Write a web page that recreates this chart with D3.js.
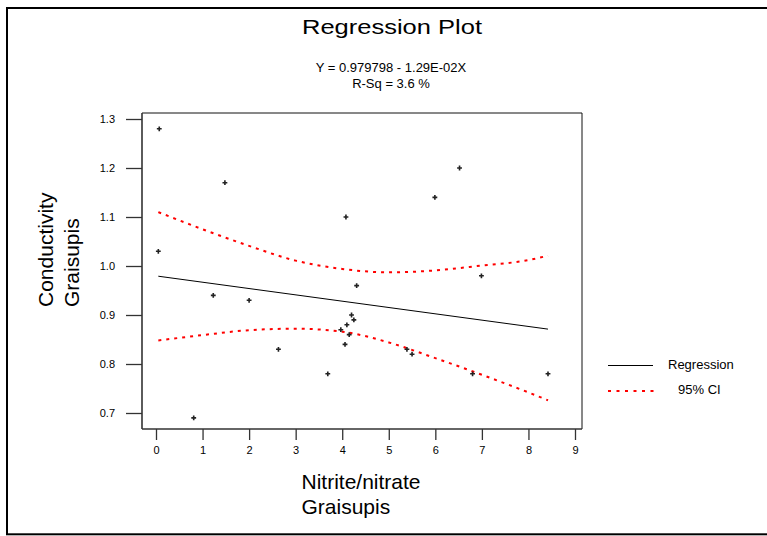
<!DOCTYPE html>
<html>
<head>
<meta charset="utf-8">
<script src="https://cdn.jsdelivr.net/npm/d3@7"></script>
<style>
  html, body { margin: 0; padding: 0; background: #fff; }
  svg { display: block; }
  text { font-family: Arial, "Liberation Sans", sans-serif; fill: #000; }
</style>
</head>
<body>
<svg id="chart" width="767" height="536"></svg>
<script>
// ---- data ----
const pointsX = [0.07, 0.05, 0.81, 1.23, 1.48, 2.00, 2.63, 3.69, 3.97, 4.06, 4.08, 4.10, 4.15, 4.20, 4.25, 4.31, 5.39, 5.50, 5.99, 6.52, 6.80, 6.99, 8.42];
const pointsY = [1.28, 1.03, 0.69, 0.94, 1.17, 0.93, 0.83, 0.78, 0.87, 0.84, 1.10, 0.88, 0.86, 0.90, 0.89, 0.96, 0.83, 0.82, 1.14, 1.20, 0.78, 0.98, 0.78];
const intercept = 0.979798;
const slope = -0.0129;
const ciX     = [0.05, 1,     2,     3,     4,     5,     6,     7,     8,     8.42];
const ciUpper = [1.110, 1.075, 1.041, 1.011, 0.994, 0.987, 0.991, 1.001, 1.012, 1.021];
const ciLower = [0.848, 0.859, 0.869, 0.872, 0.866, 0.844, 0.812, 0.778, 0.742, 0.726];
const xTicks = [0, 1, 2, 3, 4, 5, 6, 7, 8, 9];
const yTicks = [0.7, 0.8, 0.9, 1.0, 1.1, 1.2, 1.3];
const titleText = "Regression Plot";
const eqText = "Y = 0.979798 - 1.29E-02X";
const rsqText = "R-Sq = 3.6 %";
const xLabelLines = ["Nitrite/nitrate", "Graisupis"];
const yLabelLines = ["Conductivity", "Graisupis"];
const legendLabels = ["Regression", "95% CI"];

// ---- layout ----
const svg = d3.select("#chart");
const box = { left: 142, right: 582, top: 113, bottom: 429 };
const x = d3.scaleLinear().domain([0, 9]).range([156, 575]);
const y = d3.scaleLinear().domain([0.7, 1.3]).range([413, 119]);

// outer frame
svg.append("rect")
  .attr("x", 7).attr("y", 8).attr("width", 820).attr("height", 526.3)
  .attr("fill", "none").attr("stroke", "#000").attr("stroke-width", 2);

// plot box (top and right)
svg.append("path")
  .attr("d", `M${box.left},${box.top}H${box.right}V${box.bottom}`)
  .attr("fill", "none").attr("stroke", "#111").attr("stroke-width", 1);

// axes
const xAxis = d3.axisBottom(x).tickValues(xTicks).tickFormat(d3.format("d"))
  .tickSize(11).tickPadding(6).tickSizeOuter(0);
const gx = svg.append("g").attr("transform", `translate(0,${box.bottom})`).call(xAxis);
gx.select(".domain").remove();
gx.append("line").attr("x1", box.left).attr("x2", box.right).attr("y1", 0).attr("y2", 0)
  .attr("stroke", "#333").attr("stroke-width", 1.6);
gx.selectAll(".tick line").attr("stroke", "#333").attr("stroke-width", 1.3);
gx.selectAll(".tick text").attr("font-size", 11).attr("font-family", "Arial, 'Liberation Sans', sans-serif").attr("fill", "#000");

const yAxis = d3.axisLeft(y).tickValues(yTicks).tickFormat(d3.format(".1f"))
  .tickSize(16).tickPadding(11).tickSizeOuter(0);
const gy = svg.append("g").attr("transform", `translate(${box.left},0)`).call(yAxis);
gy.select(".domain").remove();
gy.append("line").attr("x1", 0).attr("x2", 0).attr("y1", box.top).attr("y2", box.bottom)
  .attr("stroke", "#333").attr("stroke-width", 1.6);
gy.selectAll(".tick line").attr("stroke", "#333").attr("stroke-width", 1.3);
gy.selectAll(".tick text").attr("font-size", 11).attr("font-family", "Arial, 'Liberation Sans', sans-serif").attr("fill", "#000");

// confidence interval curves
const ciLine = d3.line().curve(d3.curveMonotoneX);
[ciUpper, ciLower].forEach(arr => {
  svg.append("path")
    .attr("d", ciLine(ciX.map((v, i) => [x(v), y(arr[i])])))
    .attr("fill", "none").attr("stroke", "#ff0000").attr("stroke-width", 2)
    .attr("stroke-dasharray", "3,5");
});

// regression line
const xMin = d3.min(pointsX), xMax = d3.max(pointsX);
svg.append("line")
  .attr("x1", x(xMin)).attr("y1", y(intercept + slope * xMin))
  .attr("x2", x(xMax)).attr("y2", y(intercept + slope * xMax))
  .attr("stroke", "#000").attr("stroke-width", 1);

// points
const sym = d3.symbol().type(d3.symbolCross).size(13);
svg.append("g").selectAll("path").data(pointsX).join("path")
  .attr("d", sym)
  .attr("transform", (d, i) => `translate(${x(d)},${y(pointsY[i])})`)
  .attr("fill", "#222");

// title and subtitles
svg.append("text").attr("x", 392).attr("y", 34).attr("text-anchor", "middle")
  .attr("font-size", 21).attr("textLength", 180).attr("lengthAdjust", "spacingAndGlyphs")
  .text(titleText);
svg.append("text").attr("x", 391).attr("y", 71.5).attr("text-anchor", "middle")
  .attr("font-size", 13).text(eqText);
svg.append("text").attr("x", 391).attr("y", 88).attr("text-anchor", "middle")
  .attr("font-size", 13).text(rsqText);

// x label
xLabelLines.forEach((t, i) => {
  svg.append("text").attr("x", 301.5).attr("y", 489 + i * 25)
    .attr("font-size", 21).text(t);
});

// y label
yLabelLines.forEach((t, i) => {
  svg.append("text")
    .attr("transform", `translate(${53 + i * 26},307) rotate(-90)`)
    .attr("font-size", 21).text(t);
});

// legend
const lg = svg.append("g");
lg.append("line").attr("x1", 608).attr("x2", 653).attr("y1", 365.5).attr("y2", 365.5)
  .attr("stroke", "#000").attr("stroke-width", 1);
lg.append("text").attr("x", 668).attr("y", 368.5).attr("font-size", 13).text(legendLabels[0]);
lg.append("line").attr("x1", 608).attr("x2", 655).attr("y1", 391).attr("y2", 391)
  .attr("stroke", "#ff0000").attr("stroke-width", 2).attr("stroke-dasharray", "3,5.5");
lg.append("text").attr("x", 678).attr("y", 393.5).attr("font-size", 13).text(legendLabels[1]);
</script>
</body>
</html>
